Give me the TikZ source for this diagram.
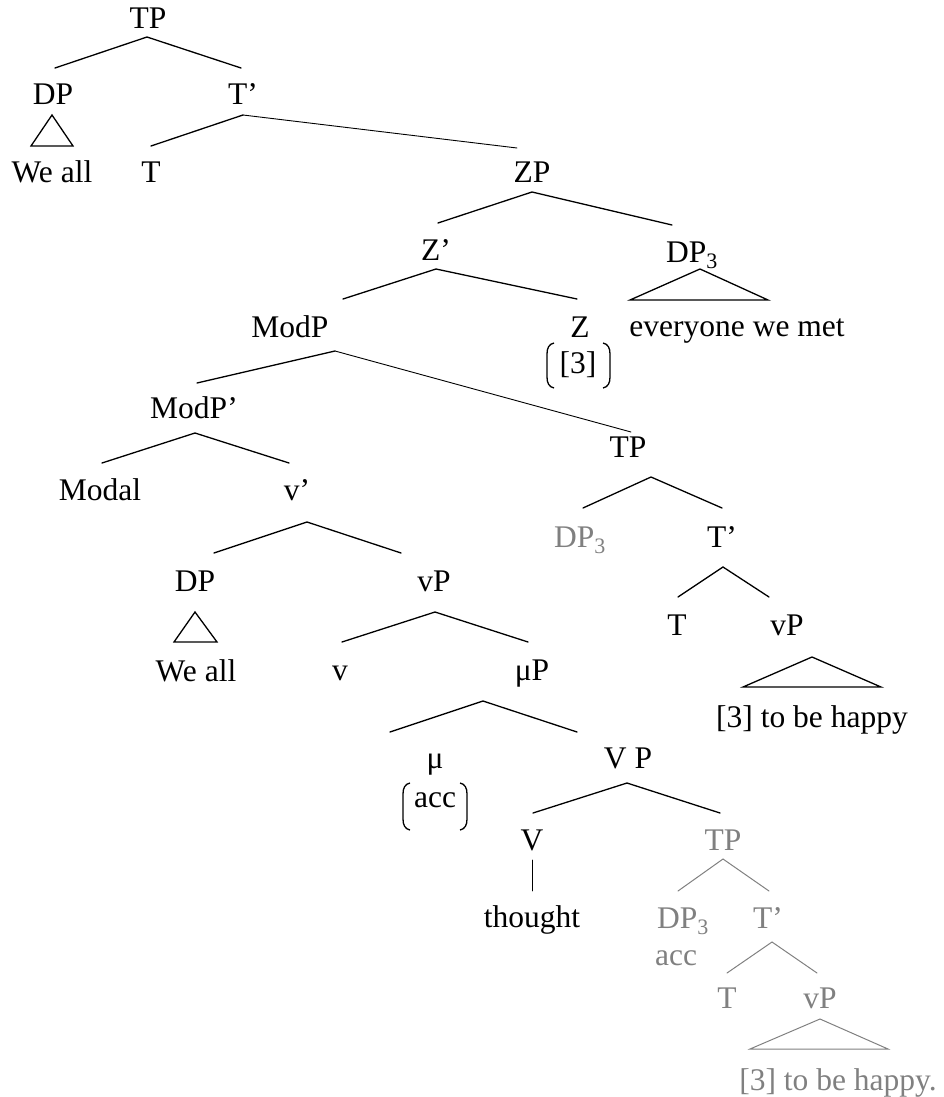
\documentclass[tikz,border=0pt]{standalone}
\usepackage{fontspec}
\setmainfont{Liberation Serif}
\definecolor{greyc}{RGB}{128,128,128}
\tikzset{
  lbl/.style={inner sep=0pt, anchor=base, font=\fontsize{31.5}{36}\selectfont},
  glbl/.style={lbl, text=greyc},
  br/.style={line width=1.3pt, line cap=round},
  thinbr/.style={line width=0.9pt, line cap=round},
  gbr/.style={draw=greyc, line width=1pt, line cap=round},
  paren/.style={line width=1.3pt},
}
\begin{document}
\begin{tikzpicture}[x=1pt,y=-1pt]
\useasboundingbox (0,0) rectangle (944,1097);
% labels
\node[lbl] (tp1) at (148,29) {TP};
\node[lbl] (dp1) at (53,105) {DP};
\node[lbl] (tb1) at (243,105) {T'};
\node[lbl] (weall1) at (52,182) {We all};
\node[lbl] (t1) at (151,182) {T};
\node[lbl] (zp) at (532,182) {ZP};
\node[lbl] (zbar) at (436,260) {Z'};
\node[lbl] (dp3a) at (692,262) {DP\textsubscript{3}};
\node[lbl] (modp) at (290,337) {ModP};
\node[lbl] (z) at (580,337) {Z};
\node[lbl] (ev) at (737,336) {everyone we met};
\node[lbl] (three) at (578,373) {[3]};
\node[lbl] (modpb) at (194,418) {ModP'};
\node[lbl] (tp2) at (628,457) {TP};
\node[lbl] (modal) at (100,500) {Modal};
\node[lbl] (vbar) at (297,500) {v'};
\node[glbl] (dp3b) at (580,547) {DP\textsubscript{3}};
\node[lbl] (tb2) at (722,547) {T'};
\node[lbl] (dp2) at (195,591) {DP};
\node[lbl] (vp1) at (434,591) {vP};
\node[lbl] (t2) at (677,635) {T};
\node[lbl] (vp2) at (787,635) {vP};
\node[lbl] (happy1) at (812,727) {[3] to be happy};
\node[lbl] (weall2) at (196,681) {We all};
\node[lbl] (v) at (340,680) {v};
\node[lbl] (mup) at (532,680) {μP};
\node[lbl] (mu) at (435,768) {μ};
\node[lbl] (vpbig) at (628,768) {V P};
\node[lbl] (acc1) at (435,807) {acc};
\node[lbl] (V) at (532,850) {V};
\node[glbl] (tp3) at (723,850) {TP};
\node[lbl] (thought) at (532,927) {thought};
\node[glbl] (dp3c) at (683,928) {DP\textsubscript{3}};
\node[glbl] (tb3) at (768,928) {T'};
\node[glbl] (acc2) at (676,965) {acc};
\node[glbl] (t3) at (727,1008) {T};
\node[glbl] (vp3) at (820,1008) {vP};
\node[glbl] (happy2) at (838,1090) {[3] to be happy.};
% branch coordinates
\coordinate (tp1a) at (147,37);  \coordinate (tp1l) at (55,68);   \coordinate (tp1r) at (241,68);
\coordinate (tb1a) at (243,115); \coordinate (tb1l) at (151,146); \coordinate (tb1r) at (517,148);
\coordinate (dp1a) at (52,115);  \coordinate (dp1l) at (31,146);  \coordinate (dp1r) at (73,146);
\coordinate (zpa) at (532,192);  \coordinate (zpl) at (438,223);  \coordinate (zpr) at (672,225);
\coordinate (zba) at (436,269);  \coordinate (zbl) at (343,299);  \coordinate (zbr) at (577,299);
\coordinate (dp3aa) at (700,269); \coordinate (dp3al) at (630,300); \coordinate (dp3ar) at (768,300);
\coordinate (modpa) at (335,351); \coordinate (modpl) at (197,383); \coordinate (modpr) at (631,432);
\coordinate (modpba) at (195,433); \coordinate (modpbl) at (102,463); \coordinate (modpbr) at (289,463);
\coordinate (tp2a) at (651,477); \coordinate (tp2l) at (583,508); \coordinate (tp2r) at (722,508);
\coordinate (vba) at (307,522);  \coordinate (vbl) at (214,553);  \coordinate (vbr) at (401,553);
\coordinate (tb2a) at (723,567); \coordinate (tb2l) at (678,597); \coordinate (tb2r) at (769,597);
\coordinate (dp2a) at (195,612); \coordinate (dp2l) at (174,642); \coordinate (dp2r) at (217,642);
\coordinate (vp1a) at (435,612); \coordinate (vp1l) at (342,642); \coordinate (vp1r) at (528,642);
\coordinate (vp2a) at (812,657); \coordinate (vp2l) at (743,687); \coordinate (vp2r) at (881,687);
\coordinate (mupa) at (483,701); \coordinate (mupl) at (390,732); \coordinate (mupr) at (577,732);
\coordinate (vpba) at (627,783); \coordinate (vpbl) at (533,813); \coordinate (vpbr) at (720,813);
\coordinate (Vt) at (532,860);   \coordinate (Vb) at (532,891);
\coordinate (tp3a) at (723,859); \coordinate (tp3l) at (678,891); \coordinate (tp3r) at (769,891);
\coordinate (tb3a) at (772,942); \coordinate (tb3l) at (727,973); \coordinate (tb3r) at (817,973);
\coordinate (vp3a) at (820,1019); \coordinate (vp3l) at (750,1049); \coordinate (vp3r) at (888,1049);
% branches
\draw[br] (tp1l) -- (tp1a) -- (tp1r);
\draw[br] (tb1l) -- (tb1a);
\draw[thinbr] (tb1a) -- (tb1r);
\draw[br,line join=miter] (dp1a) -- (dp1l) -- (dp1r) -- cycle;
\draw[br] (zpl) -- (zpa) -- (zpr);
\draw[br] (zbl) -- (zba) -- (zbr);
\draw[br] (dp3aa) -- (dp3al) -- (dp3ar) -- cycle;
\draw[br] (modpl) -- (modpa);
\draw[thinbr] (modpa) -- (modpr);
\draw[br] (modpbl) -- (modpba) -- (modpbr);
\draw[br] (tp2l) -- (tp2a) -- (tp2r);
\draw[br] (vbl) -- (vba) -- (vbr);
\draw[br] (tb2l) -- (tb2a) -- (tb2r);
\draw[br] (dp2a) -- (dp2l) -- (dp2r) -- cycle;
\draw[br] (vp1l) -- (vp1a) -- (vp1r);
\draw[br] (vp2a) -- (vp2l) -- (vp2r) -- cycle;
\draw[br] (mupl) -- (mupa) -- (mupr);
\draw[br] (vpbl) -- (vpba) -- (vpbr);
\draw[thinbr] (Vt) -- (Vb);
\draw[gbr] (tp3l) -- (tp3a) -- (tp3r);
\draw[gbr] (tb3l) -- (tb3a) -- (tb3r);
\draw[gbr] (vp3a) -- (vp3l) -- (vp3r) -- cycle;
% feature brackets
\draw[paren] (554,343) .. controls (549,344) and (547,348) .. (547,354) -- (547,377) .. controls (547,383) and (549,387) .. (554,388);
\draw[paren] (603,343) .. controls (608,344) and (610,348) .. (610,354) -- (610,377) .. controls (610,383) and (608,387) .. (603,388);
\draw[paren] (410,783) .. controls (405,784) and (403,788) .. (403,794) -- (403,819) .. controls (403,825) and (405,829) .. (410,830);
\draw[paren] (460,783) .. controls (465,784) and (467,788) .. (467,794) -- (467,819) .. controls (467,825) and (465,829) .. (460,830);
\end{tikzpicture}
\end{document}
